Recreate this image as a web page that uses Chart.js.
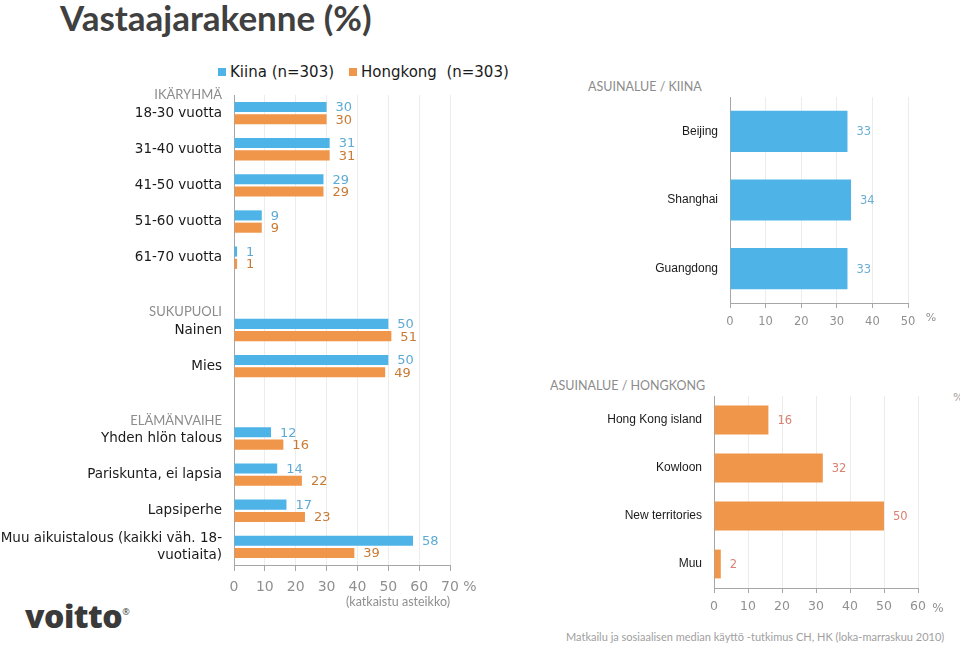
<!DOCTYPE html>
<html>
<head>
<meta charset="utf-8">
<script src="https://cdn.jsdelivr.net/npm/chart.js@4.4.0/dist/chart.umd.min.js"></script>
<style>
  body { margin: 0; width: 960px; height: 645px; position: relative; background: #fff; overflow: hidden; font-family: "DejaVu Sans", sans-serif; }
  canvas { position: absolute; }
  .txt { position: absolute; white-space: pre; }
  #title { left: 60px; top: -4px; line-height: 42px; font: bold 35px Lato, sans-serif; color: #404040; }
  .legend-box { position: absolute; width: 8px; height: 8px; top: 68px; }
  .legend-text { top: 62px; line-height: 20px; font-size: 15px; color: #1a1a1a; }
  .region-title { font-family: Lato, sans-serif; color: #8c8c8c; }
  #source { left: 566px; top: 630px; line-height: 16px; font: 11px Lato, sans-serif; color: #a0a0a0; }
  #logo { left: 25px; top: 594px; line-height: 38px; font: 800 32px "Open Sans", sans-serif; color: #3a3a3a; letter-spacing: -0.5px; }
  #logo sup { font-size: 9px; font-weight: normal; vertical-align: 13px; letter-spacing: 0; }
</style>
</head>
<body>
<div id="title" class="txt">Vastaajarakenne (%)</div>

<div class="legend-box" style="left:218px; background:#4eb3e6;"></div>
<div class="txt legend-text" style="left:230px;">Kiina (n=303)</div>
<div class="legend-box" style="left:349px; background:#f0964a;"></div>
<div class="txt legend-text" style="left:361px;">Hongkong  (n=303)</div>

<div class="txt region-title" style="left:588px; top:79px; line-height:16px; font-size:12.5px;">ASUINALUE / KIINA</div>
<div class="txt region-title" style="left:550px; top:378px; line-height:16px; font-size:12.5px;">ASUINALUE / HONGKONG</div>
<div class="txt" style="left:953px; top:391px; font-size:11px; color:#a0a0a0;">%</div>

<div id="logo" class="txt">voitto<sup>®</sup></div>
<div id="source" class="txt">Matkailu ja sosiaalisen median käyttö -tutkimus CH, HK (loka-marraskuu 2010)</div>

<canvas id="profileChart" width="500" height="540" style="left:0; top:80px;"></canvas>
<canvas id="chinaChart" width="420" height="250" style="left:540px; top:90px;"></canvas>
<canvas id="hkChart" width="420" height="250" style="left:540px; top:390px;"></canvas>

<script>
const BLUE = '#4eb3e6';
const ORANGE = '#f0964a';

// vastaajaprofiili (vasen kaavio)
const profileCategories = [
  '18-30 vuotta', '31-40 vuotta', '41-50 vuotta', '51-60 vuotta', '61-70 vuotta',
  '',
  'Nainen', 'Mies',
  '',
  'Yhden hlön talous', 'Pariskunta, ei lapsia', 'Lapsiperhe',
  ['Muu aikuistalous (kaikki väh. 18-', 'vuotiaita)']
];
const kiinaValues = [30, 31, 29, 9, 1, null, 50, 50, null, 12, 14, 17, 58];
const hongkongValues = [30, 31, 29, 9, 1, null, 51, 49, null, 16, 22, 23, 39];
const groupHeaders = [
  { index: 0, text: 'IKÄRYHMÄ' },
  { index: 6, text: 'SUKUPUOLI' },
  { index: 9, text: 'ELÄMÄNVAIHE' }
];
const profileTicks = [0, 10, 20, 30, 40, 50, 60, 70];

// asuinalue
const chinaRegions = ['Beijing', 'Shanghai', 'Guangdong'];
const chinaValues = [33, 34, 33];
const chinaTicks = [0, 10, 20, 30, 40, 50];

const hkRegions = ['Hong Kong island', 'Kowloon', 'New territories', 'Muu'];
const hkValues = [16, 32, 50, 2];
const hkTicks = [0, 10, 20, 30, 40, 50, 60];

const valueLabels = {
  id: 'valueLabels',
  afterDatasetsDraw(chart, args, opts) {
    const ctx = chart.ctx;
    ctx.save();
    ctx.font = opts.font;
    ctx.textAlign = 'left';
    ctx.textBaseline = 'middle';
    chart.data.datasets.forEach((ds, i) => {
      chart.getDatasetMeta(i).data.forEach((bar, j) => {
        const v = ds.data[j];
        if (v === null || v === undefined) return;
        ctx.fillStyle = opts.colors[i];
        ctx.fillText(v, bar.x + opts.offset, bar.y + 1);
      });
    });
    ctx.restore();
  }
};

const unitLabel = {
  id: 'unitLabel',
  afterDraw(chart, args, opts) {
    const x = chart.scales.x;
    const ctx = chart.ctx;
    ctx.save();
    ctx.font = opts.font;
    ctx.fillStyle = '#909090';
    ctx.textAlign = 'center';
    ctx.textBaseline = 'middle';
    ctx.fillText(opts.text, x.right + opts.dx, x.top + opts.dy);
    ctx.restore();
  }
};

const headerPlugin = {
  id: 'groupHeaders',
  afterDraw(chart) {
    const y = chart.scales.y;
    const ctx = chart.ctx;
    ctx.save();
    ctx.font = '13px Lato, sans-serif';
    ctx.fillStyle = '#8c8c8c';
    ctx.textAlign = 'right';
    ctx.textBaseline = 'middle';
    groupHeaders.forEach(h => {
      ctx.fillText(h.text, y.right - 12, y.getPixelForValue(h.index) - 18);
    });
    ctx.restore();
  }
};

function valueAxis(ticks, max, fontSize, tickLen, pad, height) {
  return {
    type: 'linear',
    min: 0,
    max: max,
    afterBuildTicks: s => { s.ticks = ticks.map(v => ({ value: v })); },
    afterFit: s => { s.height = height; s.paddingLeft = 0; s.paddingRight = 0; },
    grid: { color: '#ececec', tickColor: '#a6a6a6', tickLength: tickLen },
    border: { color: '#a6a6a6' },
    ticks: { color: '#909090', padding: pad, font: { family: 'DejaVu Sans', size: fontSize } }
  };
}

function categoryAxis(width, font) {
  return {
    type: 'category',
    afterFit: s => { s.width = width; s.paddingTop = 0; s.paddingBottom = 0; },
    grid: { display: false, drawTicks: false },
    border: { color: '#a6a6a6' },
    ticks: { color: '#1a1a1a', padding: 12, autoSkip: false, font: font }
  };
}

const profileX = valueAxis(profileTicks, 70, 14, 6, 8, 50);
profileX.title = {
  display: true, text: '(katkaistu asteikko)', align: 'end',
  color: '#909090', font: { family: 'Lato', size: 12.5 }, padding: { top: 0, bottom: 6 }
};

new Chart(document.getElementById('profileChart'), {
  type: 'bar',
  data: {
    labels: profileCategories,
    datasets: [
      { label: 'Kiina (n=303)', data: kiinaValues, backgroundColor: BLUE },
      { label: 'Hongkong  (n=303)', data: hongkongValues, backgroundColor: ORANGE }
    ]
  },
  options: {
    indexAxis: 'y',
    responsive: false,
    animation: false,
    categoryPercentage: 0.68,
    barPercentage: 0.82,
    layout: { padding: { left: 0, right: 50, top: 15, bottom: 5 } },
    plugins: {
      legend: { display: false },
      tooltip: { enabled: false },
      valueLabels: { font: '13px "DejaVu Sans"', colors: ['#5eaad4', '#c97a34'], offset: 9 },
      unitLabel: { text: '%', font: '14px "DejaVu Sans"', dx: 20, dy: 22 }
    },
    scales: {
      x: profileX,
      y: categoryAxis(234, { family: 'DejaVu Sans', size: 13.5 })
    }
  },
  plugins: [valueLabels, unitLabel, headerPlugin]
});

new Chart(document.getElementById('chinaChart'), {
  type: 'bar',
  data: {
    labels: chinaRegions,
    datasets: [{ label: 'Kiina', data: chinaValues, backgroundColor: BLUE }]
  },
  options: {
    indexAxis: 'y',
    responsive: false,
    animation: false,
    categoryPercentage: 1,
    barPercentage: 0.6,
    layout: { padding: { left: 0, right: 52, top: 7, bottom: 7 } },
    plugins: {
      legend: { display: false },
      tooltip: { enabled: false },
      valueLabels: { font: '11.5px "DejaVu Sans"', colors: ['#6aaed6'], offset: 9 },
      unitLabel: { text: '%', font: '11px "DejaVu Sans"', dx: 23, dy: 15 }
    },
    scales: {
      x: valueAxis(chinaTicks, 50, 11.5, 5, 7, 30),
      y: categoryAxis(190, { family: 'Liberation Sans', size: 12 })
    }
  },
  plugins: [valueLabels, unitLabel]
});

new Chart(document.getElementById('hkChart'), {
  type: 'bar',
  data: {
    labels: hkRegions,
    datasets: [{ label: 'Hongkong', data: hkValues, backgroundColor: ORANGE }]
  },
  options: {
    indexAxis: 'y',
    responsive: false,
    animation: false,
    categoryPercentage: 1,
    barPercentage: 0.6,
    layout: { padding: { left: 0, right: 42, top: 6, bottom: 22 } },
    plugins: {
      legend: { display: false },
      tooltip: { enabled: false },
      valueLabels: { font: '11.5px "DejaVu Sans"', colors: ['#d9806f'], offset: 9 },
      unitLabel: { text: '%', font: '12px "DejaVu Sans"', dx: 20, dy: 21 }
    },
    scales: {
      x: valueAxis(hkTicks, 60, 12.5, 5, 6, 30),
      y: categoryAxis(174, { family: 'Liberation Sans', size: 12 })
    }
  },
  plugins: [valueLabels, unitLabel]
});
</script>
</body>
</html>
